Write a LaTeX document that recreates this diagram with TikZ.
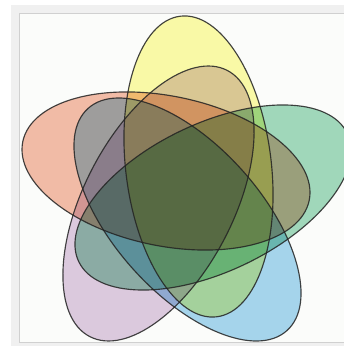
\documentclass[tikz,border=0pt]{standalone}
\definecolor{vyellow}{RGB}{253,252,170}
\definecolor{vred}{RGB}{245,190,170}
\definecolor{vgreen}{RGB}{163,218,190}
\definecolor{vpurple}{RGB}{223,204,226}
\definecolor{vblue}{RGB}{168,215,240}
\definecolor{framegray}{RGB}{240,240,240}
\definecolor{frameline}{RGB}{208,208,208}
\definecolor{innerbg}{RGB}{251,252,250}
\definecolor{edge}{RGB}{35,35,35}
\begin{document}
\begin{tikzpicture}[x=1pt,y=1pt,
  petal/.style={blend mode=multiply},
  outline/.style={draw=edge, line width=1.15pt, draw opacity=0.85}]
\useasboundingbox (0,0) rectangle (344,346);
\fill[white] (0,0) rectangle (344,346);
\fill[framegray] (11,0) rectangle (344,341);
\filldraw[fill=innerbg, draw=frameline, line width=0.8pt] (19.5,4) rectangle (360,332.5);
\begin{scope}
\clip (0,0) rectangle (344,346);
% fills
\fill[petal, vyellow, shift={(198.5,179.5)}, rotate=96.9] (0,0) ellipse [x radius=151.4, y radius=72.8];
\fill[petal, vred, shift={(166,175)}, rotate=168.4] (0,0) ellipse [x radius=146.2, y radius=74.9];
\fill[petal, vpurple, shift={(158.5,142.5)}, rotate=62.7] (0,0) ellipse [x radius=149.8, y radius=74.8];
\fill[petal, vblue, shift={(187.5,126.5)}, rotate=-48.2] (0,0) ellipse [x radius=149.1, y radius=73.6];
\fill[petal, vgreen, shift={(213,148.5)}, rotate=25.5] (0,0) ellipse [x radius=148.8, y radius=74];
% outlines
\draw[outline, shift={(198.5,179.5)}, rotate=96.9] (0,0) ellipse [x radius=151.4, y radius=72.8];
\draw[outline, shift={(166,175)}, rotate=168.4] (0,0) ellipse [x radius=146.2, y radius=74.9];
\draw[outline, shift={(158.5,142.5)}, rotate=62.7] (0,0) ellipse [x radius=149.8, y radius=74.8];
\draw[outline, shift={(187.5,126.5)}, rotate=-48.2] (0,0) ellipse [x radius=149.1, y radius=73.6];
\draw[outline, shift={(213,148.5)}, rotate=25.5] (0,0) ellipse [x radius=148.8, y radius=74];
\end{scope}
\end{tikzpicture}
\end{document}
